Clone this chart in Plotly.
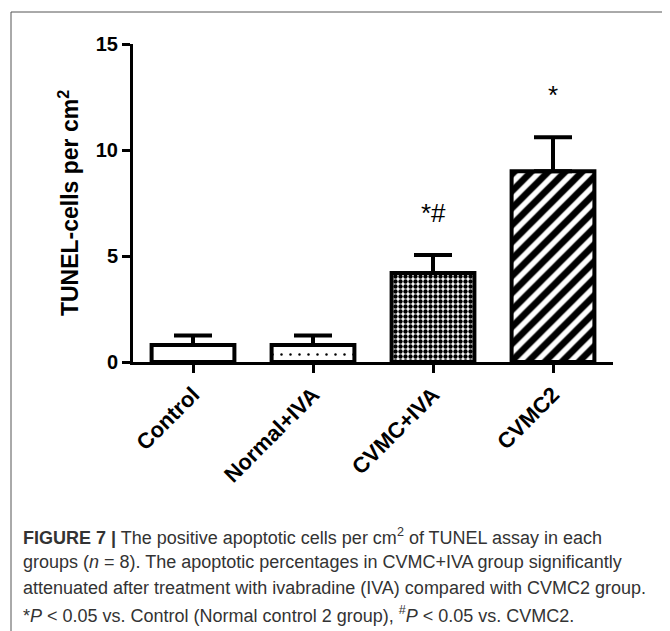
import plotly.graph_objects as go

categories = ["Control", "Normal+IVA", "CVMC+IVA", "CVMC2"]
means = [0.8, 0.8, 4.2, 9.0]
sems = [0.45, 0.45, 0.85, 1.6]
sig_labels = ["", "", "*#", "*"]
y_ticks = [0, 5, 10, 15]

OFF = 8  # page body margin
W, H = 670 - OFF, 631 - OFF
# plot area in screenshot pixels
PX_L, PX_R, PX_T, PX_B = 133 - OFF, 613 - OFF, 44 - OFF, 362 - OFF


def paper_x(px):
    return (px - OFF - PX_L) / (PX_R - PX_L)


def paper_y(py):
    return (PX_B - (py - OFF)) / (PX_B - PX_T)


fig = go.Figure()
fig.add_trace(go.Bar(
    x=categories,
    y=means,
    width=0.69,
    marker=dict(
        color="white",
        line=dict(color="black", width=4),
        pattern=dict(
            shape=["", ".", ".", "/"],
            size=[8, 9, 5, 12],
            solidity=[0.2, 0.06, 0.6, 0.55],
            fgcolor="black",
            fgopacity=1,
            bgcolor="white",
            fillmode="overlay",
        ),
    ),
    error_y=dict(type="data", array=sems, arrayminus=[0] * len(sems), symmetric=False,
                 color="black", thickness=4, width=19),
    showlegend=False,
))

# significance markers above error bars
for cat, m, s, lab in zip(categories, means, sems, sig_labels):
    if lab:
        fig.add_annotation(x=cat, y=m + s + 2.0, xref="x", yref="y", text=lab,
                           showarrow=False, font=dict(family="Liberation Sans", size=26, color="black"))

# caption
caption_lines = [
    "<b>FIGURE 7 |</b> The positive apoptotic cells per cm<sup>2</sup> of TUNEL assay in each",
    "groups (<i>n</i> = 8). The apoptotic percentages in CVMC+IVA group significantly",
    "attenuated after treatment with ivabradine (IVA) compared with CVMC2 group.",
    "*<i>P</i> &lt; 0.05 vs. Control (Normal control 2 group), <sup>#</sup><i>P</i> &lt; 0.05 vs. CVMC2.",
]
for i, line in enumerate(caption_lines):
    fig.add_annotation(x=paper_x(21), y=paper_y(536 + 26 * i), xref="paper", yref="paper",
                       xanchor="left", yanchor="middle", align="left", text=line, showarrow=False,
                       font=dict(family="Liberation Sans", size=18, color="#333333"))

# frame
fig.add_shape(type="rect", xref="paper", yref="paper", x0=paper_x(11), x1=paper_x(666),
              y0=paper_y(660), y1=paper_y(12), line=dict(color="#555555", width=1),
              fillcolor="rgba(0,0,0,0)", layer="below")

fig.update_layout(
    width=W, height=H,
    margin=dict(l=PX_L, r=W - PX_R, t=PX_T, b=H - PX_B),
    paper_bgcolor="white", plot_bgcolor="white",
    font=dict(family="Liberation Sans", color="black"),
    xaxis=dict(type="category", range=[-0.5, 3.5], showline=True, linecolor="black", linewidth=3,
               ticks="outside", ticklen=8, tickwidth=3, tickcolor="black", tickangle=-45,
               showgrid=False, zeroline=False,
               tickfont=dict(family="Liberation Sans", size=22, color="black", weight="bold")),
    yaxis=dict(range=[0, 15], tickvals=y_ticks, showline=True, linecolor="black", linewidth=3,
               ticks="outside", ticklen=8, tickwidth=3, tickcolor="black", showgrid=False,
               zeroline=False,
               tickfont=dict(family="Liberation Sans", size=20, color="black", weight="bold"),
               title=dict(text="<b>TUNEL-cells per cm<sup>2</sup></b>", standoff=11,
                          font=dict(family="Liberation Sans", size=23, color="black"))),
)

fig.write_html("out.html")
